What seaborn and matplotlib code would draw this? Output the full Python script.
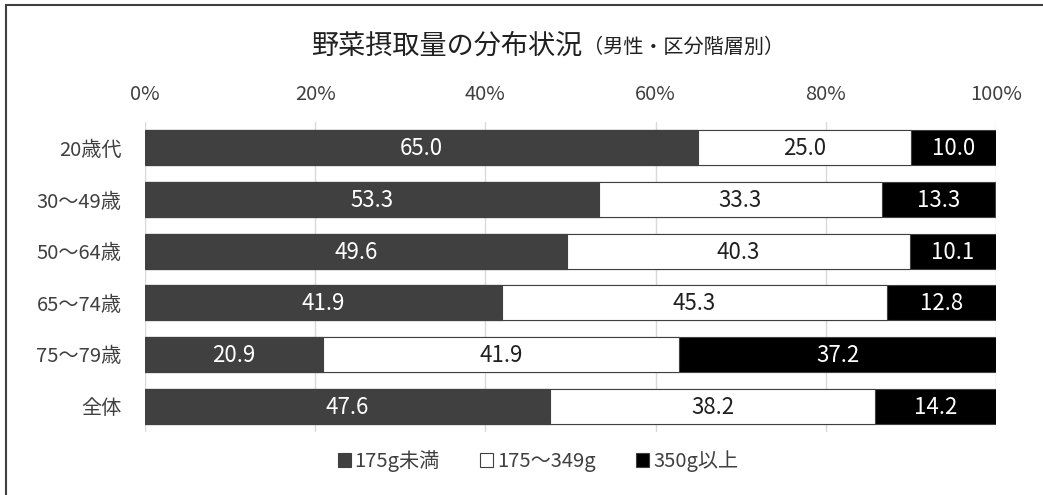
import matplotlib
matplotlib.use("Agg")
import matplotlib.pyplot as plt
from matplotlib.patches import Rectangle, Patch
import seaborn as sns
import pandas as pd
import numpy as np

sns.set_theme(style="white")
plt.rcParams['font.family'] = ['Noto Sans CJK JP', 'DejaVu Sans']

categories = ["20歳代", "30〜49歳", "50〜64歳", "65〜74歳", "75〜79歳", "全体"]
under_175 = [65.0, 53.3, 49.6, 41.9, 20.9, 47.6]
mid_175_349 = [25.0, 33.3, 40.3, 45.3, 41.9, 38.2]
over_350 = [10.0, 13.3, 10.1, 12.8, 37.2, 14.2]
series_names = ["175g未満", "175〜349g", "350g以上"]
title_main = "野菜摂取量の分布状況"
title_sub = "（男性・区分階層別）"

colors = ["#404040", "#ffffff", "#000000"]
text_colors = ["white", "#202020", "white"]

W, H = 1043, 495
fig = plt.figure(figsize=(W / 100, H / 100), dpi=100)
ax = fig.add_axes([145 / W, 1 - 432 / H, (996 - 145) / W, (432 - 122) / H])

df = pd.DataFrame({
    "category": categories,
    "a": under_175,
    "b": mid_175_349,
    "c": over_350,
})
df["ab"] = df["a"] + df["b"]
df["abc"] = df["ab"] + df["c"]

# Stacked bars drawn as overlapping cumulative totals, widest first
for col, color in zip(["abc", "ab", "a"], colors[::-1]):
    sns.barplot(data=df, y="category", x=col, color=color, orient="h",
                width=0.68, edgecolor="#404040", linewidth=0.8,
                saturation=1, ax=ax, zorder=3)

# Segment value labels
segs = [under_175, mid_175_349, over_350]
for i in range(len(categories)):
    left = 0.0
    for s, vals in enumerate(segs):
        v = vals[i]
        ax.text(left + v / 2, i + 0.02, f"{v:.1f}", ha="center", va="center",
                fontsize=16, color=text_colors[s], zorder=5)
        left += v

ax.set_xlim(0, 100)
ax.set_ylim(len(categories) - 0.5, -0.5)
ax.set_xticks(np.arange(0, 101, 20))
ax.set_xticklabels([f"{t}%" for t in range(0, 101, 20)])
ax.xaxis.tick_top()
ax.grid(axis="x", color="#d9d9d9", linewidth=1, zorder=0)
ax.set_axisbelow(True)
for sp in ax.spines.values():
    sp.set_visible(False)
ax.tick_params(axis="both", length=0, labelsize=14.5, labelcolor="#404040")
ax.tick_params(axis="x", pad=12)
ax.tick_params(axis="y", pad=17)
ax.set_xlabel("")
ax.set_ylabel("")
ax.axvline(0, color="#d9d9d9", linewidth=1.2, zorder=1)

# Title
fig.text(582 / W, 1 - 46 / H, title_main, ha="right", va="center",
         fontsize=19.5, color="#202020")
fig.text(583 / W, 1 - 47 / H, title_sub, ha="left", va="center",
         fontsize=14.5, color="#202020")

# Legend
handles = [Patch(facecolor=c, edgecolor="#404040", linewidth=0.8) for c in colors]
fig.legend(handles, series_names, loc="center", bbox_to_anchor=(538 / W, 1 - 461 / H),
           ncol=3, frameon=False, fontsize=14.5, handlelength=0.65, handleheight=0.65,
           handletextpad=0.2, columnspacing=2.0, labelcolor="#404040")

# Chart frame
fig.patches.append(Rectangle((6 / W, -0.1), 1.2, 1 - 5 / H + 0.1, transform=fig.transFigure,
                             fill=False, edgecolor="#404040", linewidth=1.5))

fig.savefig("out.png", dpi=100, facecolor="white")
